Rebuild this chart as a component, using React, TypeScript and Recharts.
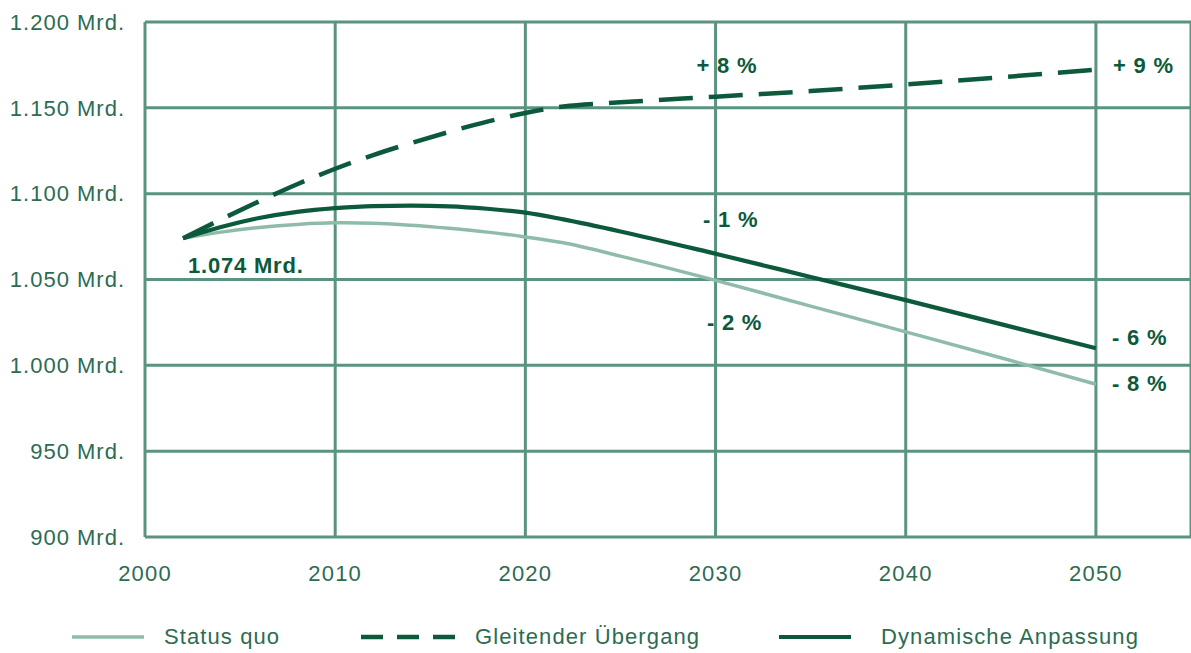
import React from "react";
import {
  LineChart,
  Line,
  XAxis,
  YAxis,
  CartesianGrid,
  Legend,
  ReferenceDot,
} from "recharts";

const years = [2002, 2004, 2006, 2008, 2010, 2012, 2014, 2016, 2018, 2020, 2022, 2025, 2030, 2035, 2040, 2045, 2050];
const statusQuo = [1074, 1077.6, 1080.3, 1082.1, 1083, 1082.8, 1081.6, 1079.8, 1077.6, 1074.8, 1071.4, 1063.6, 1049.5, 1034.5, 1019.5, 1004.4, 989];
const gleitend = [1074, 1085, 1095.5, 1105.5, 1114.5, 1122.5, 1129.5, 1136, 1142, 1147, 1150.8, 1153.2, 1156.5, 1159.8, 1163.6, 1167.8, 1172.3];
const dynamisch = [1074, 1080.6, 1085.8, 1089.4, 1091.6, 1092.8, 1093, 1092.6, 1091.2, 1089, 1085, 1078, 1065, 1051.5, 1038, 1024, 1010];

const xTicks = [2000, 2010, 2020, 2030, 2040, 2050];
const yTicks = [900, 950, 1000, 1050, 1100, 1150, 1200];

const annotations = [
  { x: 2005.3, y: 1058.4, text: "1.074 Mrd." },
  { x: 2030.6, y: 1174.4, text: "+ 8 %" },
  { x: 2052.5, y: 1174.4, text: "+ 9 %" },
  { x: 2030.8, y: 1084.7, text: "- 1 %" },
  { x: 2031.0, y: 1025.2, text: "- 2 %" },
  { x: 2052.3, y: 1016.5, text: "- 6 %" },
  { x: 2052.3, y: 989.7, text: "- 8 %" },
];

const seriesNames = ["Status quo", "Gleitender Übergang", "Dynamische Anpassung"];

const data = years.map((year, i) => ({
  year,
  statusQuo: statusQuo[i],
  gleitend: gleitend[i],
  dynamisch: dynamisch[i],
}));

const GRID = "#5a9380";
const DARK = "#0c5a3b";
const LIGHT = "#8fbca8";
const TEXT = "#2b6c53";
const FONT = "'Liberation Sans', Arial, Helvetica, sans-serif";

const formatY = (v: number) =>
  v >= 1000 ? `${Math.floor(v / 1000)}.${String(v % 1000).padStart(3, "0")} Mrd.` : `${v} Mrd.`;

const legendItems = [
  { name: seriesNames[0], color: LIGHT, dash: undefined as string | undefined, width: 3.5, left: 72, lineW: 72, gap: 20 },
  { name: seriesNames[1], color: DARK, dash: "22 14", width: 4.5, left: 361, lineW: 95, gap: 19 },
  { name: seriesNames[2], color: DARK, dash: undefined, width: 4, left: 779, lineW: 72, gap: 30 },
];

const CustomLegend = () => (
  <div style={{ position: "relative", width: 1191, height: 32, fontFamily: FONT }}>
    {legendItems.map((it) => (
      <div
        key={it.name}
        style={{
          position: "absolute",
          left: it.left,
          top: 0,
          height: 32,
          display: "flex",
          alignItems: "center",
        }}
      >
        <svg width={it.lineW} height={10} style={{ display: "block" }}>
          <line
            x1={0}
            y1={5}
            x2={it.lineW}
            y2={5}
            stroke={it.color}
            strokeWidth={it.width}
            strokeDasharray={it.dash}
          />
        </svg>
        <span
          style={{
            marginLeft: it.gap,
            fontSize: 22,
            letterSpacing: 1.1,
            color: TEXT,
            whiteSpace: "nowrap",
          }}
        >
          {it.name}
        </span>
      </div>
    ))}
  </div>
);

const AnnotationShape = (text: string) => (props: any) => (
  <text
    x={props.cx}
    y={props.cy}
    textAnchor="middle"
    dominantBaseline="central"
    fill={DARK}
    fontFamily={FONT}
    fontWeight="bold"
    fontSize={22}
    letterSpacing={0.8}
  >
    {text}
  </text>
);

export default function App() {
  return (
    <div style={{ position: "absolute", left: 0, top: 0, width: 1191, height: 653, background: "#fff" }}>
      <LineChart
        width={1191}
        height={653}
        data={data}
        margin={{ top: 22, right: 0, left: 0, bottom: 0 }}
      >
        <CartesianGrid stroke={GRID} strokeWidth={3} horizontal vertical />
        <XAxis
          dataKey="year"
          type="number"
          domain={[2000, 2055]}
          ticks={xTicks}
          allowDataOverflow
          height={84}
          tickSize={0}
          tickMargin={28}
          axisLine={false}
          tickLine={false}
          tick={{ fill: TEXT, fontSize: 22, fontFamily: FONT, letterSpacing: 1.2 }}
        />
        <YAxis
          type="number"
          domain={[900, 1200]}
          ticks={yTicks}
          width={145}
          tickSize={0}
          tickMargin={20}
          axisLine={false}
          tickLine={false}
          tickFormatter={formatY}
          tick={{ fill: TEXT, fontSize: 22, fontFamily: FONT, letterSpacing: 1 }}
        />
        <Line
          dataKey="statusQuo"
          name={seriesNames[0]}
          type="monotone"
          stroke={LIGHT}
          strokeWidth={3.5}
          dot={false}
          isAnimationActive={false}
        />
        <Line
          dataKey="dynamisch"
          name={seriesNames[2]}
          type="monotone"
          stroke={DARK}
          strokeWidth={4.2}
          dot={false}
          isAnimationActive={false}
        />
        <Line
          dataKey="gleitend"
          name={seriesNames[1]}
          type="monotone"
          stroke={DARK}
          strokeWidth={4.5}
          strokeDasharray="34 16"
          dot={false}
          isAnimationActive={false}
        />
        {annotations.map((a) => (
          <ReferenceDot
            key={a.text}
            x={a.x}
            y={a.y}
            r={0}
            ifOverflow="visible"
            shape={AnnotationShape(a.text)}
          />
        ))}
        <Legend
          verticalAlign="bottom"
          height={32}
          wrapperStyle={{ left: 0, bottom: 0, width: 1191 }}
          content={() => <CustomLegend />}
        />
      </LineChart>
    </div>
  );
}
